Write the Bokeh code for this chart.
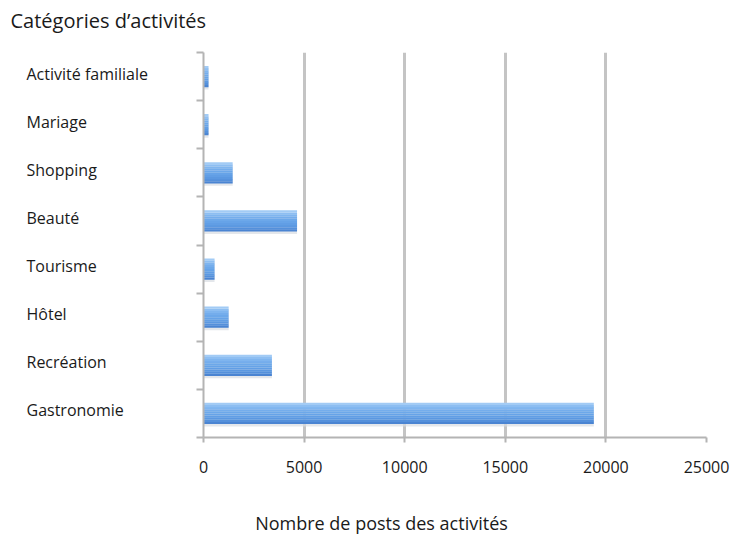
from bokeh.plotting import figure
from bokeh.layouts import column, row
from bokeh.models import Range1d, FixedTicker, ColumnDataSource, LinearAxis
from bokeh.core.properties import value
from bokeh.embed import file_html
from bokeh.resources import INLINE

# Data (bottom to top)
categories = ["Gastronomie", "Recréation", "Hôtel", "Tourisme", "Beauté",
              "Shopping", "Mariage", "Activité familiale"]
posts = [19400, 3400, 1250, 550, 4650, 1450, 250, 250]
x_ticks = [0, 5000, 10000, 15000, 20000, 25000]
title_text = "Catégories d\u2019activités"
x_label_text = "Nombre de posts des activités"

FONT = "Open Sans"
TXT = "#1a1a1a"
n = len(categories)
centers = [i + 0.5 for i in range(n)]
boundaries = list(range(n + 1))

src = ColumnDataSource(dict(cat=categories, posts=posts, y=centers))


def bare(fig):
    fig.xaxis.visible = False
    fig.yaxis.visible = False
    fig.xgrid.visible = False
    fig.ygrid.visible = False
    fig.outline_line_color = None
    fig.min_border_left = fig.min_border_right = 0
    fig.min_border_top = fig.min_border_bottom = 0
    return fig


# ---- top strip: chart title
top = bare(figure(width=733, height=40, x_range=Range1d(0, 733), y_range=Range1d(0, 40),
                  output_backend="svg", toolbar_location=None, title=None))
top.text(x=[10], y=[20], text=[title_text], text_align="left", text_baseline="middle",
         text_font=value(FONT), text_font_size="20px", text_color=TXT)

# ---- main plot
y_range = Range1d(0, n)
p = figure(width=537, height=470, x_range=Range1d(0, 25000), y_range=y_range,
           output_backend="svg", toolbar_location=None, title=None,
           min_border_left=0, min_border_right=27, min_border_top=12,
           min_border_bottom=73)
p.outline_line_color = None

p.ygrid.visible = False
p.xgrid.ticker = FixedTicker(ticks=x_ticks)
p.xgrid.grid_line_color = "#c4c4c4"
p.xgrid.grid_line_width = 3

# bars: soft shadow, then a smooth bottom-to-top gradient built from thin bands
H = 0.44
p.hbar(y=[c - 0.05 for c in centers], right=posts, left=0, height=H,
       fill_color="#d9dde3", fill_alpha=0.7, line_color=None)
grad = ["#4a84d2", "#5490db", "#5b98e1", "#619ee5", "#66a3e8", "#6ca8ea",
        "#74adec", "#7fb5ef", "#8dbef2", "#a2cbf5"]
k = len(grad)
for i, col in enumerate(grad):
    off = -H / 2 + (i + 0.5) * H / k
    p.hbar(y=[c + off for c in centers], right=posts, left=0, height=H / k * 1.05,
           fill_color=col, line_color=None)

xa = p.xaxis[0]
xa.ticker = FixedTicker(ticks=x_ticks)
xa.axis_line_color = "#b4b4b4"
xa.axis_line_width = 2
xa.major_tick_line_color = "#b4b4b4"
xa.major_tick_line_width = 2
xa.major_tick_out = 5
xa.major_tick_in = 0
xa.minor_tick_line_color = None
xa.major_label_standoff = 18
xa.major_label_text_font = FONT
xa.major_label_text_font_size = "16px"
xa.major_label_text_color = TXT

p.yaxis.visible = False
ya = LinearAxis(ticker=FixedTicker(ticks=[], minor_ticks=boundaries))
ya.axis_line_color = "#b4b4b4"
ya.axis_line_width = 2
ya.minor_tick_line_color = "#b4b4b4"
ya.minor_tick_line_width = 2
ya.minor_tick_out = 7
ya.minor_tick_in = 0
ya.major_tick_line_color = None
p.add_layout(ya, "left")

# ---- left strip: category labels (shares the main plot's y range)
left = bare(figure(width=196, height=470, x_range=Range1d(0, 196), y_range=y_range,
                   output_backend="svg", toolbar_location=None, title=None))
left.text(x=26, y="y", text="cat", source=src, text_align="left", text_baseline="middle",
          y_offset=-3, text_font=value(FONT), text_font_size="16px", text_color=TXT)

# ---- bottom strip: x-axis title
bottom = bare(figure(width=733, height=25, x_range=Range1d(0, 733), y_range=Range1d(0, 25),
                     output_backend="svg", toolbar_location=None, title=None))
bottom.text(x=[381], y=[13], text=[x_label_text], text_align="center",
            text_baseline="middle", text_font=value(FONT), text_font_size="18px",
            text_color=TXT)

layout = column(top, row(left, p), bottom)
open("out.html", "w").write(file_html(layout, INLINE))
